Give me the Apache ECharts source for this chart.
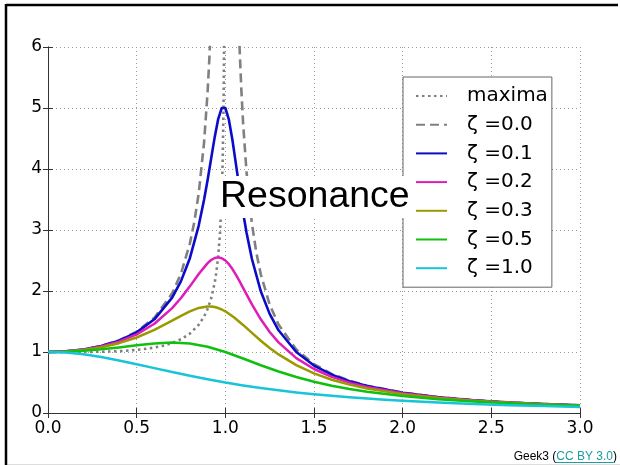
<!DOCTYPE html>
<html>
<head>
<meta charset="utf-8">
<script src="https://cdn.jsdelivr.net/npm/echarts@6/dist/echarts.min.js"></script>
<style>
html,body{margin:0;padding:0;background:#fff;}
#chart{width:620px;height:465px;}
</style>
</head>
<body>
<div id="chart"></div>
<script>
// ---- data ----
const seriesNames = ['maxima', 'ζ =0.0', 'ζ =0.1', 'ζ =0.2', 'ζ =0.3', 'ζ =0.5', 'ζ =1.0'];
const xTicks = [0.0, 0.5, 1.0, 1.5, 2.0, 2.5, 3.0];
const yTicks = [0, 1, 2, 3, 4, 5, 6];

const xMax = [0,0.1,0.2,0.3,0.4,0.5,0.6,0.65,0.7,0.75,0.8,0.85,0.88,0.9,0.92,0.94,0.95,0.96,0.97,0.98,0.985,0.99,0.993,0.995];
const yMax = [1,1.0001,1.0008,1.0041,1.0130,1.0328,1.0719,1.1033,1.1472,1.2095,1.3014,1.4464,1.5805,1.7053,1.8778,2.1357,2.3219,2.5764,2.9526,3.5891,4.1288,5.0378,6.0077,7.0977];

const xZ00 = [0,0.1,0.2,0.3,0.4,0.5,0.6,0.7,0.75,0.8,0.825,0.85,0.88,0.9,0.91,0.92,0.94,1.0,1.06,1.08,1.09,1.1,1.12,1.15,1.175,1.2,1.25,1.3,1.4,1.5,1.6,1.7,1.8,2.0,2.2,2.4,2.6,2.8,3.0];
const yZ00 = [1,1.0101,1.0417,1.0989,1.1905,1.3333,1.5625,1.9608,2.2857,2.7778,3.1311,3.6036,4.4326,5.2632,5.8173,6.5104,8.5911,null,8.0906,6.0096,5.3163,4.7619,3.9308,3.1008,2.6274,2.2727,1.7778,1.4493,1.0417,0.8,0.6410,0.5291,0.4464,0.3333,0.2604,0.2101,0.1736,0.1462,0.125];

const xZ01 = [0,0.1,0.2,0.3,0.4,0.5,0.6,0.7,0.75,0.8,0.85,0.88,0.9,0.92,0.94,0.96,0.98,0.99,1.0,1.02,1.04,1.06,1.08,1.1,1.12,1.15,1.2,1.25,1.3,1.4,1.5,1.6,1.7,1.8,2.0,2.2,2.4,2.6,2.8,3.0];
const yZ01 = [1,1.0099,1.0408,1.0965,1.1851,1.3216,1.5357,1.8908,2.1622,2.5384,3.0728,3.4949,3.8208,4.1721,4.5224,4.8218,5.0010,5.0252,5.0,4.8086,4.4756,4.0749,3.6675,3.2880,2.9502,2.5245,1.9952,1.6246,1.3562,1.0,0.7779,0.6279,0.5207,0.4408,0.3304,0.2587,0.2090,0.1729,0.1457,0.1246];

const xZ02 = [0,0.1,0.2,0.3,0.4,0.5,0.6,0.7,0.75,0.8,0.85,0.9,0.92,0.94,0.96,0.98,1.0,1.02,1.04,1.06,1.08,1.1,1.15,1.2,1.25,1.3,1.4,1.5,1.6,1.7,1.8,2.0,2.2,2.4,2.6,2.8,3.0];
const yZ02 = [1,1.0093,1.0381,1.0895,1.1695,1.2883,1.4630,1.7188,1.8851,2.0761,2.2786,2.4566,2.5077,2.5406,2.5515,2.5381,2.5,2.4391,2.3589,2.2642,2.1601,2.0511,1.7800,1.5357,1.3287,1.1574,0.8998,0.7212,0.5931,0.4979,0.4250,0.3221,0.2538,0.2059,0.1708,0.1443,0.1236];

const xZ03 = [0,0.1,0.2,0.3,0.4,0.5,0.6,0.7,0.75,0.8,0.85,0.9,0.92,0.94,0.96,0.98,1.0,1.05,1.1,1.15,1.2,1.25,1.3,1.4,1.5,1.6,1.7,1.8,2.0,2.2,2.4,2.6,2.8,3.0];
const yZ03 = [1,1.0083,1.0336,1.0780,1.1447,1.2380,1.3618,1.5136,1.5933,1.6667,1.7223,1.7469,1.7453,1.7365,1.7202,1.6968,1.6667,1.5667,1.4438,1.3129,1.1851,1.0667,0.9603,0.7839,0.6492,0.5459,0.4656,0.4021,0.3095,0.2463,0.2011,0.1676,0.1420,0.1220];

const xZ05 = [0,0.1,0.2,0.3,0.4,0.5,0.6,0.7,0.8,0.9,1.0,1.1,1.2,1.3,1.4,1.5,1.6,1.7,1.8,2.0,2.2,2.4,2.6,2.8,3.0];
const yZ05 = [1,1.0050,1.0198,1.0436,1.0748,1.1094,1.1399,1.1546,1.1399,1.0872,1.0,0.8930,0.7824,0.6795,0.5891,0.5121,0.4475,0.3934,0.3480,0.2774,0.2260,0.1876,0.1582,0.1353,0.1170];

const xZ10 = [0,0.1,0.2,0.3,0.4,0.5,0.6,0.7,0.8,0.9,1.0,1.1,1.2,1.3,1.4,1.5,1.6,1.7,1.8,1.9,2.0,2.2,2.4,2.6,2.8,3.0];
const yZ10 = [1,0.9901,0.9615,0.9174,0.8621,0.8,0.7353,0.6711,0.6098,0.5525,0.5,0.4525,0.4098,0.3717,0.3378,0.3077,0.2809,0.2571,0.2358,0.2169,0.2,0.1712,0.1479,0.1289,0.1131,0.1];

// ---- chart ----
function pairs(xs, ys) {
  return xs.map((x, i) => [x, ys[i] === null ? '-' : ys[i]]);
}
const dataSets = [[xMax,yMax],[xZ00,yZ00],[xZ01,yZ01],[xZ02,yZ02],[xZ03,yZ03],[xZ05,yZ05],[xZ10,yZ10]];
const colors = ['#808080','#808080','#0c0cc8','#e01cb8','#9a9a00','#10c010','#18c4d8'];
const lineTypes = [[2.5,3.5],[9,5],'solid','solid','solid','solid','solid'];
const widths = [2.6,2.6,2.6,2.5,2.5,2.5,2.5];

const tickFont = '"DejaVu Sans", sans-serif';
const axisColor = '#333';

const chart = echarts.init(document.getElementById('chart'), null, {renderer: 'canvas'});
const option = {
  animation: false,
  backgroundColor: '#fff',
  grid: {left: 48, right: 40, top: 47, bottom: 52, containLabel: false},
  xAxis: [{
    type: 'value', min: xTicks[0], max: xTicks[xTicks.length-1], interval: 0.5,
    axisLine: {show: true, lineStyle: {color: axisColor, width: 1}},
    axisTick: {show: true, inside: true, length: 5, lineStyle: {color: axisColor}},
    axisLabel: {color: '#000', fontSize: 17, fontFamily: tickFont, margin: 7,
      formatter: v => v.toFixed(1)},
    splitLine: {show: true, lineStyle: {color: '#999', width: 1, type: [1, 3]}}
  }, {
    type: 'value', position: 'top', min: xTicks[0], max: xTicks[xTicks.length-1], interval: 0.5,
    axisLine: {show: true, lineStyle: {color: axisColor, width: 1}},
    axisTick: {show: true, inside: true, length: 5, lineStyle: {color: axisColor}},
    axisLabel: {show: false}, splitLine: {show: false}
  }],
  yAxis: [{
    type: 'value', min: yTicks[0], max: yTicks[yTicks.length-1], interval: 1,
    axisLine: {show: true, lineStyle: {color: axisColor, width: 1}},
    axisTick: {show: true, inside: true, length: 5, lineStyle: {color: axisColor}},
    axisLabel: {color: '#000', fontSize: 17, fontFamily: tickFont, margin: 6},
    splitLine: {show: true, lineStyle: {color: '#999', width: 1, type: [1, 3]}}
  }, {
    type: 'value', position: 'right', min: yTicks[0], max: yTicks[yTicks.length-1], interval: 1,
    axisLine: {show: true, lineStyle: {color: axisColor, width: 1}},
    axisTick: {show: true, inside: true, length: 5, lineStyle: {color: axisColor}},
    axisLabel: {show: false}, splitLine: {show: false}
  }],
  legend: {
    orient: 'vertical', left: 403, top: 77,
    padding: [9, 4, 9, 12],
    itemWidth: 31, itemHeight: 20, itemGap: 8.7,
    backgroundColor: '#fff', borderColor: '#666', borderWidth: 1, borderRadius: 0,
    itemStyle: {opacity: 0},
    textStyle: {color: '#000', fontSize: 20, fontFamily: tickFont, lineHeight: 20, padding: [0, 0, 0, 15]},
    data: seriesNames,
    z: 5
  },
  series: seriesNames.map((name, i) => ({
    name: name, type: 'line', xAxisIndex: 0, yAxisIndex: 0,
    data: pairs(dataSets[i][0], dataSets[i][1]),
    symbol: 'none', showSymbol: false, smooth: false,
    clip: true, connectNulls: false,
    color: colors[i],
    lineStyle: {color: colors[i], width: widths[i], type: lineTypes[i], cap: 'butt', join: 'round'},
    emphasis: {disabled: true},
    z: 2 + i
  })),
  graphic: [
    {type: 'text', left: 217, top: 176, z: 100,
      style: {text: 'Resonance', font: '37.5px "Liberation Sans", Arial, sans-serif', fill: '#000',
        backgroundColor: '#fff', padding: [2, 3, 2, 3]}},
    {type: 'text', right: 3, top: 451, z: 100,
      style: {text: '{a|Geek3 (}{b|CC BY 3.0}{a|)}', font: '12px "Liberation Sans", Arial, sans-serif',
        rich: {a: {fill: '#000', fontSize: 12, fontFamily: '"Liberation Sans", Arial'},
               b: {fill: '#1a9e9e', fontSize: 12, fontFamily: '"Liberation Sans", Arial'}}}},
    {type: 'line', z: 100, shape: {x1: 556, y1: 462.5, x2: 615, y2: 462.5}, style: {stroke: '#1a9e9e', lineWidth: 1}},
    {type: 'line', z: 100, shape: {x1: 6, y1: 5, x2: 618, y2: 5}, style: {stroke: '#000', lineWidth: 2.5}},
    {type: 'line', z: 100, shape: {x1: 6, y1: 4, x2: 6, y2: 465}, style: {stroke: '#000', lineWidth: 2.5}},
    {type: 'line', z: 99, shape: {x1: 6, y1: 464.5, x2: 620, y2: 464.5}, style: {stroke: '#ddd', lineWidth: 1}}
  ]
};
chart.setOption(option);
</script>
</body>
</html>
